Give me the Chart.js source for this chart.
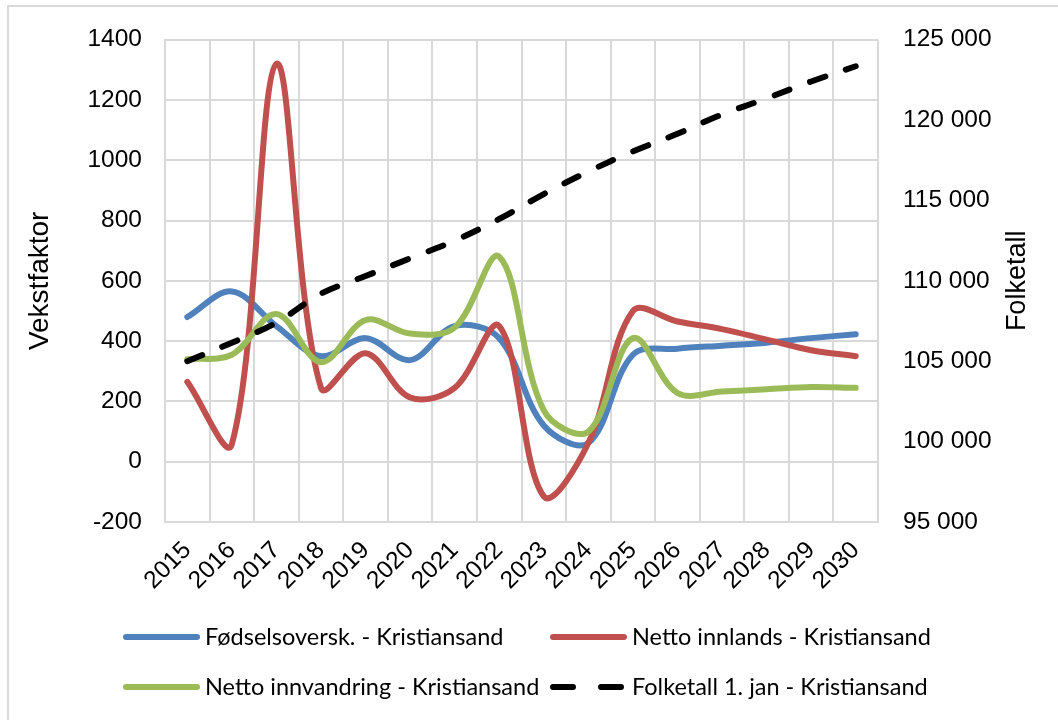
<!DOCTYPE html>
<html>
<head>
<meta charset="utf-8">
<script src="https://cdn.jsdelivr.net/npm/chart.js@4.4.1/dist/chart.umd.min.js"></script>
<style>
  html, body { margin: 0; padding: 0; background: #fff; }
</style>
</head>
<body>
<canvas id="chart" width="1058" height="720"></canvas>
<script>
// Years on the x axis
const years = ['2015', '2016', '2017', '2018', '2019', '2020', '2021', '2022',
  '2023', '2024', '2025', '2026', '2027', '2028', '2029', '2030'];

// Left axis series (Vekstfaktor)
const fodselsoverskudd = [480, 565, 450, 350, 410, 337, 450, 410, 120, 62, 355, 375, 385, 395, 410, 423];
const nettoInnlands = [265, 58, 1320, 245, 360, 213, 245, 450, -115, 62, 500, 465, 440, 405, 370, 350];
const nettoInnvandring = [340, 355, 490, 330, 470, 425, 445, 680, 170, 100, 410, 228, 233, 240, 248, 245];

// Right axis series (Folketall 1. jan)
const folketall = [105000, 106150, 107400, 109200, 110300, 111400, 112500, 113850,
  115400, 116800, 118050, 119150, 120350, 121350, 122400, 123350];

const seriesLabels = [
  'Fødselsoversk. - Kristiansand',
  'Netto innlands - Kristiansand',
  'Netto innvandring - Kristiansand',
  'Folketall 1. jan - Kristiansand'
];

const gridColor = '#d9d9d9';
const axisFont = { family: '"Liberation Sans", Arial, sans-serif', size: 24.5 };
const legendFont = '23.5px Lato, "Liberation Sans", sans-serif';

// Frame, right axis title and a two-column legend like the original
const extras = {
  id: 'extras',
  beforeDraw(chart) {
    const ctx = chart.ctx;
    ctx.save();
    ctx.strokeStyle = gridColor;
    ctx.lineWidth = 2;
    ctx.beginPath();
    ctx.moveTo(8, chart.height);
    ctx.lineTo(8, 6);
    ctx.lineTo(chart.width, 6);
    ctx.stroke();
    ctx.restore();
  },
  afterDraw(chart) {
    const ctx = chart.ctx;
    const area = chart.chartArea;

    // "Folketall" reads bottom to top, so draw it here
    ctx.save();
    ctx.translate(1018, (area.top + area.bottom) / 2);
    ctx.rotate(-Math.PI / 2);
    ctx.font = '27px "Liberation Sans", Arial, sans-serif';
    ctx.fillStyle = '#000';
    ctx.textAlign = 'center';
    ctx.textBaseline = 'middle';
    ctx.fillText('Folketall', 0, 0);
    ctx.restore();

    const cols = [123, 550];
    const rows = [637, 687];
    chart.data.datasets.forEach((ds, i) => {
      const x = cols[i % 2];
      const y = rows[Math.floor(i / 2)];
      ctx.save();
      ctx.strokeStyle = ds.borderColor;
      ctx.lineWidth = 6;
      ctx.lineCap = 'round';
      ctx.setLineDash(ds.borderDash ? [20, 28] : []);
      ctx.beginPath();
      ctx.moveTo(x + 3, y);
      ctx.lineTo(x + 74, y);
      ctx.stroke();
      ctx.setLineDash([]);
      ctx.font = legendFont;
      ctx.fillStyle = '#000';
      ctx.textBaseline = 'middle';
      ctx.fillText(ds.label, x + 82, y);
      ctx.restore();
    });
  }
};

const ctx = document.getElementById('chart').getContext('2d');
const chart = new Chart(ctx, {
  type: 'line',
  data: {
    labels: years,
    datasets: [
      {
        label: seriesLabels[0],
        data: fodselsoverskudd,
        borderColor: '#4f81bd',
        yAxisID: 'y',
        order: 4
      },
      {
        label: seriesLabels[1],
        data: nettoInnlands,
        borderColor: '#c0504d',
        yAxisID: 'y',
        order: 3
      },
      {
        label: seriesLabels[2],
        data: nettoInnvandring,
        borderColor: '#9bbb59',
        yAxisID: 'y',
        order: 2
      },
      {
        label: seriesLabels[3],
        data: folketall,
        borderColor: '#000000',
        borderDash: [16, 22],
        yAxisID: 'y1',
        order: 1
      }
    ]
  },
  options: {
    responsive: false,
    animation: false,
    devicePixelRatio: 1,
    layout: { padding: { left: 10, right: 0, top: 38, bottom: 0 } },
    elements: {
      line: { borderWidth: 6, tension: 0.35, borderCapStyle: 'round', fill: false },
      point: { radius: 0 }
    },
    plugins: {
      legend: { display: false },
      tooltip: { enabled: false }
    },
    scales: {
      x: {
        offset: true,
        grid: { offset: true, color: gridColor, lineWidth: 2, drawTicks: false },
        border: { color: gridColor, width: 2 },
        ticks: {
          font: axisFont,
          color: '#000',
          autoSkip: false,
          minRotation: 45,
          maxRotation: 45,
          padding: 14
        },
        afterFit(scale) { scale.height = 198; }
      },
      y: {
        position: 'left',
        min: -200,
        max: 1400,
        grid: { color: gridColor, lineWidth: 2, drawTicks: false },
        border: { color: gridColor, width: 2 },
        ticks: { stepSize: 200, font: axisFont, color: '#000', padding: 23, callback: v => String(v) },
        title: {
          display: true,
          text: 'Vekstfaktor',
          font: { family: '"Liberation Sans", Arial, sans-serif', size: 28 },
          color: '#000',
          padding: { top: 13, bottom: 0 }
        },
        afterFit(scale) { scale.width = 155; }
      },
      y1: {
        position: 'right',
        min: 95000,
        max: 125000,
        grid: { display: false, drawTicks: false },
        border: { display: false },
        ticks: {
          stepSize: 5000,
          font: axisFont,
          color: '#000',
          padding: 25,
          callback: v => String(v).replace(/\B(?=(\d{3})+(?!\d))/g, ' ')
        },
        afterFit(scale) { scale.width = 180; }
      }
    }
  },
  plugins: [extras]
});
</script>
</body>
</html>
